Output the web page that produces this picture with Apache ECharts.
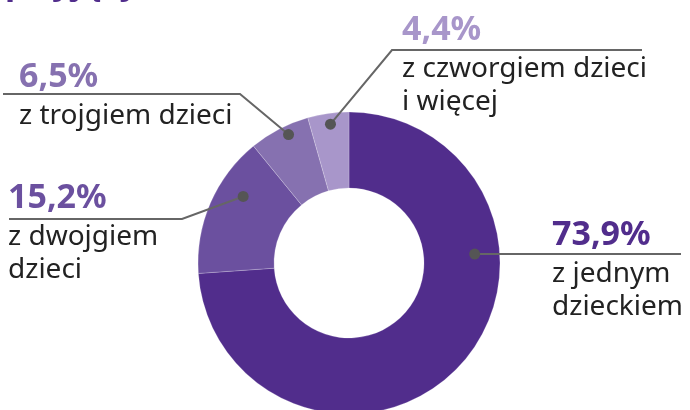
<!DOCTYPE html>
<html>
<head>
<meta charset="utf-8">
<script src="https://cdn.jsdelivr.net/npm/echarts@6/dist/echarts.min.js"></script>
<style>
  html, body { margin: 0; padding: 0; background: #fff; }
  #chart { width: 690px; height: 410px; }
</style>
</head>
<body>
<div id="chart"></div>
<script>
// dane
const categories = ['z jednym\ndzieckiem', 'z dwojgiem\ndzieci', 'z trojgiem dzieci', 'z czworgiem dzieci\ni więcej']
const shares = [73.9, 15.2, 6.5, 4.4]
const titleText = 'p żyjący'

// wygląd
const sliceColors = ['#512d8c', '#6b509f', '#8671b0', '#a896ca']
const center = [349, 263]
const radius = [75, 151]
// położenie kropki w wycinku (ułamek kąta, promień w px) i punkty linii
const anchors = [
  { frac: 0.323, r: 126, elbow: [553, 254], end: [681, 254], x: 552, y: 212 },
  { frac: 0.66, r: 125, elbow: [182, 219], end: [9, 219], x: 8, y: 175 },
  { frac: 0.6, r: 142, elbow: [240, 94], end: [3, 94], x: 19, y: 54 },
  { frac: 0.52, r: 140, elbow: [392, 50], end: [642, 50], x: 402, y: 7 }
]

const total = shares.reduce((a, b) => a + b, 0)
const starts = []
let acc = 0
shares.forEach(v => { starts.push(acc); acc += v })

// punkty kropek w układzie biegunowym [promień, kąt]
const dotData = shares.map((v, i) => [anchors[i].r, (starts[i] + anchors[i].frac * v) / total * 100])

const dotPixel = i => {
  const [r, a] = dotData[i]
  const t = a / 100 * Math.PI * 2
  return [center[0] + r * Math.sin(t), center[1] - r * Math.cos(t)]
}

const fmt = v => v.toFixed(1).replace('.', ',') + '%'

const rich = {
  t: { fontFamily: 'Noto Sans', fontSize: 28, lineHeight: 33, color: '#222' }
}
sliceColors.forEach((c, i) => {
  rich['p' + i] = { fontFamily: 'Noto Sans', fontWeight: 'bold', fontSize: 34, lineHeight: 46, color: c }
})

// linie odniesienia
const leaderLines = anchors.map((a, i) => ({
  type: 'polyline',
  silent: true,
  z: 3,
  shape: { points: [dotPixel(i), a.elbow, a.end] },
  style: { stroke: '#666', lineWidth: 2, fill: null }
}))

const chart = echarts.init(document.getElementById('chart'))

const option = {
  animation: false,
  title: {
    text: titleText,
    left: 0,
    top: -41,
    textStyle: { fontFamily: 'Noto Sans', fontSize: 34, fontWeight: 'bold', color: '#512d8c', lineHeight: 40 }
  },
  graphic: leaderLines,
  polar: { center: center, radius: radius[1] },
  angleAxis: { type: 'value', min: 0, max: 100, startAngle: 90, clockwise: true, show: false },
  radiusAxis: { type: 'value', min: 0, max: radius[1], show: false },
  series: [
    {
      type: 'pie',
      center: center,
      radius: radius,
      startAngle: 90,
      clockwise: true,
      silent: true,
      z: 1,
      label: { show: false },
      labelLine: { show: false },
      itemStyle: { borderColor: 'rgba(255,255,255,0.35)', borderWidth: 0.6 },
      data: shares.map((v, i) => ({ name: categories[i], value: v, itemStyle: { color: sliceColors[i] } }))
    },
    {
      type: 'scatter',
      coordinateSystem: 'polar',
      silent: true,
      symbol: 'circle',
      symbolSize: 11,
      itemStyle: { color: '#555', opacity: 1 },
      data: dotData,
      z: 5,
      label: {
        show: true,
        position: 'right',
        color: '#222',
        formatter: p => {
          const i = p.dataIndex
          return `{p${i}|${fmt(shares[i])}}\n{t|${categories[i].split('\n').join('}\n{t|')}}`
        },
        rich: rich
      },
      labelLayout: params => {
        const a = anchors[params.dataIndex]
        return { x: a.x, y: a.y, align: 'left', verticalAlign: 'top' }
      }
    }
  ]
}

chart.setOption(option)
</script>
</body>
</html>
